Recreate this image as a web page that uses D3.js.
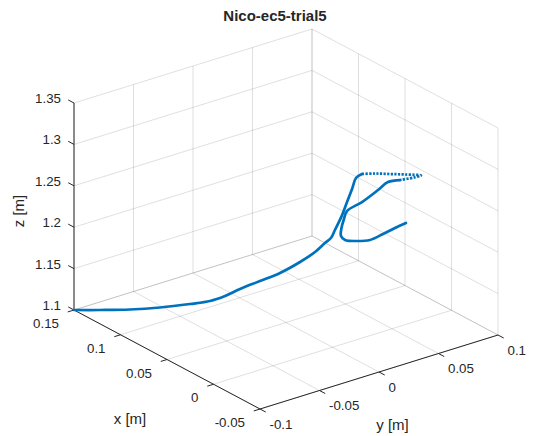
<!DOCTYPE html>
<html>
<head>
<meta charset="utf-8">
<script src="https://cdn.jsdelivr.net/npm/d3@7"></script>
<style>
  html, body { margin: 0; padding: 0; background: #fff; }
  svg { display: block; }
  text { font-family: "Liberation Sans", Arial, Helvetica, sans-serif; fill: #262626; }
</style>
</head>
<body>
<svg id="chart" width="540" height="436"></svg>
<script>
// Hand trajectory samples (metres)
const xVals = [0.15, 0.138, 0.126, 0.11, 0.096, 0.088, 0.082, 0.076, 0.068, 0.06,
  0.05, 0.042, 0.036, 0.032, 0.03, 0.026, 0.022, 0.018, 0.014, 0.01,
  0.006, 0.002, -0.002, -0.006, -0.006, -0.006, -0.004, -0.002, 0.0, 0.002,
  0.002, 0.002, 0.002, 0.002, 0.002, 0.002, 0.002, 0.002, 0.002];
const yVals = [-0.1, -0.0875, -0.0717, -0.059, -0.0447, -0.0342, -0.0262, -0.0183, -0.0078, 0.0028,
  0.0118, 0.0181, 0.0218, 0.0237, 0.0255, 0.0281, 0.0294, 0.0305, 0.0307, 0.0326,
  0.0404, 0.0499, 0.0594, 0.0697, 0.0638, 0.052, 0.0435, 0.0367, 0.0248, 0.0137,
  0.0112, 0.0091, 0.0087, 0.0121, 0.0213, 0.0331, 0.044, 0.0541, 0.0633];
const zVals = [1.1, 1.1016, 1.1023, 1.1086, 1.1148, 1.1185, 1.1246, 1.1331, 1.1428, 1.1526,
  1.1678, 1.1818, 1.1946, 1.2022, 1.2123, 1.2306, 1.2491, 1.2668, 1.2823, 1.2887,
  1.2882, 1.2857, 1.2833, 1.2799, 1.2801, 1.2823, 1.2825, 1.2747, 1.2643, 1.2572,
  1.2487, 1.2387, 1.2293, 1.223, 1.2176, 1.2136, 1.2159, 1.2187, 1.2206];
// index range of the fast (sparsely sampled) stretch
const fastStart = 19, fastEnd = 25;

const xTicks = [0.15, 0.1, 0.05, 0, -0.05];
const yTicks = [-0.1, -0.05, 0, 0.05, 0.1];
const zTicks = [1.1, 1.15, 1.2, 1.25, 1.3, 1.35];
const xTickLabels = ["0.15", "0.1", "0.05", "0", "-0.05"];
const yTickLabels = ["-0.1", "-0.05", "0", "0.05", "0.1"];
const zTickLabels = ["1.1", "1.15", "1.2", "1.25", "1.3", "1.35"];

const title = "Nico-ec5-trial5";

// Normalised box coordinates
const xs = d3.scaleLinear().domain([0.15, -0.05]).range([0, 1]);
const ys = d3.scaleLinear().domain([-0.1, 0.1]).range([0, 1]);
const zs = d3.scaleLinear().domain([1.1, 1.35]).range([0, 1]);

// Orthographic view: screen vectors of the three unit box edges
const origin = [74, 310];
const ex = [186, 99], ey = [238, -74], ez = [0, -207];
function proj(x, y, z) {
  const u = xs(x), v = ys(y), w = zs(z);
  return [origin[0] + ex[0] * u + ey[0] * v + ez[0] * w,
          origin[1] + ex[1] * u + ey[1] * v + ez[1] * w];
}

const svg = d3.select("#chart");
const gridColor = "rgba(38,38,38,0.15)";
const axisColor = "#262626";

const xD = xs.domain(), yD = ys.domain(), zD = zs.domain();
const xBack = xD[0], yBack = yD[1], zFloor = zD[0];

function seg(g, a, b, color, w) {
  g.append("line")
    .attr("x1", a[0]).attr("y1", a[1]).attr("x2", b[0]).attr("y2", b[1])
    .attr("stroke", color).attr("stroke-width", w || 1);
}

const grid = svg.append("g");
// floor
xTicks.forEach(x => seg(grid, proj(x, yD[0], zFloor), proj(x, yD[1], zFloor), gridColor));
yTicks.forEach(y => seg(grid, proj(xD[0], y, zFloor), proj(xD[1], y, zFloor), gridColor));
// back wall x = 0.15
yTicks.forEach(y => seg(grid, proj(xBack, y, zD[0]), proj(xBack, y, zD[1]), gridColor));
zTicks.forEach(z => seg(grid, proj(xBack, yD[0], z), proj(xBack, yD[1], z), gridColor));
// back wall y = 0.1
xTicks.forEach(x => seg(grid, proj(x, yBack, zD[0]), proj(x, yBack, zD[1]), gridColor));
zTicks.forEach(z => seg(grid, proj(xD[0], yBack, z), proj(xD[1], yBack, z), gridColor));

// axes
const axes = svg.append("g");
const tickLen = 6.5;
function unit(v) { const n = Math.hypot(v[0], v[1]); return [v[0] / n, v[1] / n]; }
const dirY = unit(ey), dirX = unit(ex);

// x axis along front-left floor edge (y = -0.1)
seg(axes, proj(xD[0], yD[0], zFloor), proj(xD[1], yD[0], zFloor), axisColor);
xTicks.forEach((x, i) => {
  const p = proj(x, yD[0], zFloor);
  seg(axes, p, [p[0] - dirY[0] * tickLen, p[1] - dirY[1] * tickLen], axisColor);
  axes.append("text").attr("x", p[0] - 15).attr("y", p[1] + 14.5)
    .attr("text-anchor", "end").attr("dominant-baseline", "middle")
    .attr("font-size", 13.3).text(xTickLabels[i]);
});
// y axis along front-right floor edge (x = -0.05)
seg(axes, proj(xD[1], yD[0], zFloor), proj(xD[1], yD[1], zFloor), axisColor);
yTicks.forEach((y, i) => {
  const p = proj(xD[1], y, zFloor);
  seg(axes, p, [p[0] + dirX[0] * tickLen, p[1] + dirX[1] * tickLen], axisColor);
  axes.append("text").attr("x", p[0] + 9.5).attr("y", p[1] + 16)
    .attr("text-anchor", "start").attr("dominant-baseline", "middle")
    .attr("font-size", 13.3).text(yTickLabels[i]);
});
// z axis at the left corner
seg(axes, proj(xD[0], yD[0], zD[0]), proj(xD[0], yD[0], zD[1]), axisColor);
zTicks.forEach((z, i) => {
  const p = proj(xD[0], yD[0], z);
  seg(axes, p, [p[0] - dirX[0] * tickLen, p[1] - dirX[1] * tickLen], axisColor);
  axes.append("text").attr("x", p[0] - 13).attr("y", p[1] - 3.5)
    .attr("text-anchor", "end").attr("dominant-baseline", "middle")
    .attr("font-size", 13.3).text(zTickLabels[i]);
});

// axis labels and title
svg.append("text").attr("x", 130).attr("y", 420).attr("text-anchor", "middle")
  .attr("dominant-baseline", "middle").attr("font-size", 15).text("x [m]");
svg.append("text").attr("x", 392.5).attr("y", 426).attr("text-anchor", "middle")
  .attr("dominant-baseline", "middle").attr("font-size", 15).text("y [m]");
svg.append("text").attr("transform", "translate(20.5,211) rotate(-90)")
  .attr("text-anchor", "middle").attr("dominant-baseline", "middle")
  .attr("font-size", 15).text("z [m]");
svg.append("text").attr("x", 275).attr("y", 17).attr("text-anchor", "middle")
  .attr("dominant-baseline", "middle").attr("font-size", 15).attr("font-weight", "bold")
  .text(title);

// trajectory
const pts = xVals.map((x, i) => proj(x, yVals[i], zVals[i]));
const line = d3.line().curve(d3.curveCatmullRom.alpha(0.5));
const traj = svg.append("g").attr("fill", "none").attr("stroke", "#0072BD")
  .attr("stroke-linecap", "round").attr("stroke-linejoin", "round");
traj.append("path").attr("d", line(pts.slice(0, fastStart + 1))).attr("stroke-width", 2.7);
traj.append("path").attr("d", line(pts.slice(fastStart, fastEnd + 1)))
  .attr("stroke-width", 2.7).attr("stroke-dasharray", "2.2,1.4").attr("stroke-linecap", "butt");
traj.append("path").attr("d", line(pts.slice(fastEnd))).attr("stroke-width", 2.7);
</script>
</body>
</html>
